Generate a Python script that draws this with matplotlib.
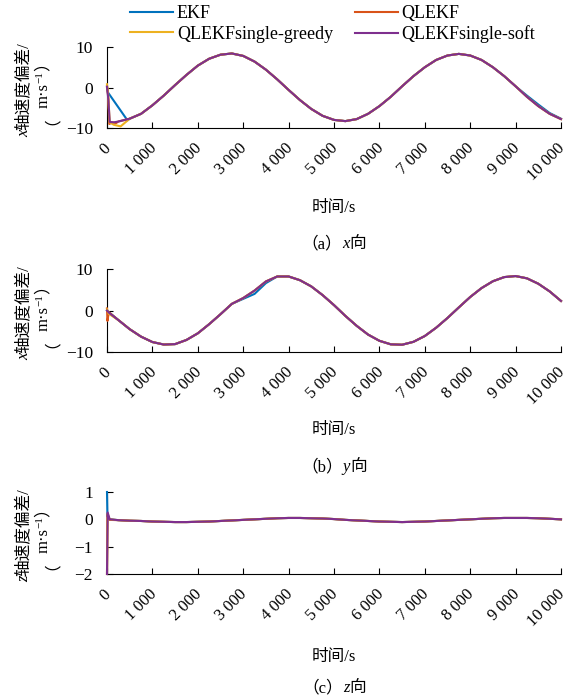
import matplotlib
matplotlib.use('Agg')
import matplotlib.pyplot as plt
from matplotlib.transforms import ScaledTranslation

W, H = 569, 696
fam = ['Liberation Serif', 'Noto Sans CJK SC']
plt.rcParams['font.family'] = fam
plt.rcParams['axes.unicode_minus'] = True

labels = ['EKF', 'QLEKF', 'QLEKFsingle-greedy', 'QLEKFsingle-soft']
colors = ['#0072BD', '#D95319', '#EDB120', '#7E2F8E']

xticks = [0, 1000, 2000, 3000, 4000, 5000, 6000, 7000, 8000, 9000, 10000]
xtick_labels = ['0', '1 000', '2 000', '3 000', '4 000', '5 000',
                '6 000', '7 000', '8 000', '9 000', '10 000']

# shared time grid after the start-up transient (s)
t_tail = [250, 500, 750, 1000, 1250, 1500, 1750, 2000, 2250, 2500,
          2750, 3000, 3250, 3500, 3750, 4000, 4250, 4500, 4750, 5000,
          5250, 5500, 5750, 6000, 6250, 6500, 6750, 7000, 7250, 7500,
          7750, 8000, 8250, 8500, 8750, 9000, 9250, 9500, 9750, 10000]

# (a) x direction
vx_tail = [-8.4, -7.7, -6.5, -4.4, -2.0, 0.6, 3.1, 5.4, 7.1, 8.1,
           8.4, 7.8, 6.4, 4.4, 2.0, -0.6, -3.1, -5.3, -7.0, -8.0,
           -8.3, -7.8, -6.5, -4.6, -2.3, 0.3, 2.8, 5.0, 6.8, 7.9,
           8.3, 7.9, 6.8, 5.0, 2.8, 0.3, -2.3, -4.6, -6.5, -7.8]
vx_ekf_tail = vx_tail[:36] + [-2.0, -4.2, -6.3, -7.7]
vx_t = [[0, 20, 450] + t_tail[1:],
        [0, 25, 50, 120, 200] + t_tail,
        [0, 20, 60, 150, 300] + t_tail[1:],
        [0, 30, 60, 150] + t_tail]
vx_v = [[0.0, -1.2, -8.1] + vx_ekf_tail[1:],
        [0.3, -2.0, -9.0, -8.6, -8.8] + vx_tail,
        [0.8, -1.0, -8.6, -9.2, -9.6] + vx_tail[1:],
        [0.2, -3.0, -8.5, -8.6] + vx_tail]

# (b) y direction
vy_tail = [-2.3, -4.5, -6.3, -7.6, -8.2, -8.1, -7.1, -5.5, -3.3, -0.9,
           1.6, 3.0, 4.8, 7.0, 8.2, 8.2, 7.3, 5.8, 3.7, 1.3,
           -1.3, -3.7, -5.8, -7.3, -8.15, -8.25, -7.55, -6.15, -4.15, -1.8,
           0.75, 3.25, 5.4, 7.05, 8.05, 8.3, 7.75, 6.45, 4.6, 2.3]
vy_ekf_tail = vy_tail[:11] + [2.8, 4.0, 6.6] + vy_tail[14:]
vy_t = [[0, 60] + t_tail,
        [0, 10, 40] + t_tail,
        [0, 40] + t_tail,
        [0, 50] + t_tail]
vy_v = [[0.0, -0.6] + vy_ekf_tail,
        [0.5, -2.5, -0.4] + vy_tail,
        [0.3, -0.8] + vy_tail,
        [0.0, -0.6] + vy_tail]

# (c) z direction
vz_tail = [-0.03, -0.05, -0.06, -0.08, -0.09, -0.1, -0.1, -0.09, -0.08, -0.06,
           -0.04, -0.02, 0.0, 0.02, 0.04, 0.05, 0.05, 0.04, 0.03, 0.01,
           -0.02, -0.04, -0.06, -0.08, -0.09, -0.1, -0.09, -0.08, -0.06, -0.04,
           -0.02, 0.0, 0.02, 0.04, 0.05, 0.05, 0.05, 0.04, 0.02, 0.0]
vz_t = [[0, 10, 60] + t_tail,
        [0, 10, 60] + t_tail,
        [0, 10, 60] + t_tail,
        [0, 15, 60] + t_tail]
vz_v = [[1.0, 0.1, 0.0] + vz_tail,
        [-2.0, 0.2, -0.02] + vz_tail,
        [-2.0, 0.05, 0.0] + vz_tail,
        [-2.0, 0.25, 0.0] + vz_tail]

panels = [
    dict(t=vx_t, v=vx_v, ylim=(-10, 10), yticks=[-10, 0, 10], top=47, bottom=128,
         axis='x', letter='a', xlab_y=212, cap_y=248),
    dict(t=vy_t, v=vy_v, ylim=(-10, 10), yticks=[-10, 0, 10], top=269, bottom=352,
         axis='x', letter='b', xlab_y=434, cap_y=471),
    dict(t=vz_t, v=vz_v, ylim=(-2, 1), yticks=[-2, -1, 0, 1], top=492, bottom=574,
         axis='z', letter='c', xlab_y=661, cap_y=692),
]
cap_axis = ['x', 'y', 'z']

fig = plt.figure(figsize=(W / 100, H / 100), dpi=100)
renderer = fig.canvas.get_renderer()


def put_pieces(x, y, parts, vertical=False):
    # parts: (text, fontsize, italic, rise); x, y in pixels from top-left
    widths = []
    for s, fs, it, rise in parts:
        t = fig.text(0, 0, s, fontsize=fs, fontstyle='italic' if it else 'normal')
        widths.append(t.get_window_extent(renderer).width)
        t.remove()
    pos = -sum(widths) / 2
    for (s, fs, it, rise), w in zip(parts, widths):
        if vertical:
            px, py, rot = x - rise, y - pos, 90
        else:
            px, py, rot = x + pos, y - rise, 0
        fig.text(px / W, 1 - py / H, s, fontsize=fs,
                 fontstyle='italic' if it else 'normal',
                 ha='left', va='baseline', rotation=rot, rotation_mode='anchor')
        pos += w


left, right = 107, 561
shift = ScaledTranslation(-4 / 100, 0, fig.dpi_scale_trans)
lines = []
for i, p in enumerate(panels):
    ax = fig.add_axes([left / W, 1 - p['bottom'] / H, (right - left) / W,
                       (p['bottom'] - p['top']) / H])
    for k in range(4):
        ln, = ax.plot(p['t'][k], p['v'][k], color=colors[k], lw=1.5,
                      label=labels[k], zorder=3, clip_on=False)
        if i == 0:
            lines.append(ln)
    ax.set_xlim(0, 10000)
    ax.set_ylim(*p['ylim'])
    ax.set_yticks(p['yticks'])
    ax.set_xticks(xticks)
    ax.spines['top'].set_visible(False)
    ax.spines['right'].set_visible(False)
    ax.tick_params(direction='in', length=4, width=0.8, labelsize=12.5,
                   labelfontfamily='Liberation Serif')
    ax.tick_params(axis='x', labelsize=12, pad=9)
    ax.tick_params(axis='y', pad=10)
    ax.set_xticklabels(xtick_labels, rotation=45, ha='right', va='top',
                       rotation_mode='anchor')
    for lbl in ax.get_xticklabels():
        lbl.set_transform(lbl.get_transform() + shift)

    yc = (p['top'] + p['bottom']) / 2 + 2
    put_pieces(28, yc, [(p['axis'], 12, True, 0), ('轴速度偏差/', 12, False, 0)],
               vertical=True)
    put_pieces(48, yc, [('（', 12, False, 0), ('m·s', 12, False, 0),
                        ('−1', 8, False, 6), ('）', 12, False, 0)], vertical=True)
    xc = (left + right) / 2
    put_pieces(xc, p['xlab_y'], [('时间/s', 12, False, 0)])
    put_pieces(xc, p['cap_y'], [('（' + p['letter'] + '）', 12, False, 0),
                                (cap_axis[i], 12, True, 0), ('向', 12, False, 0)])

order = [0, 2, 1, 3]
fig.legend([lines[k] for k in order], [labels[k] for k in order], ncol=2,
           loc='upper left', bbox_to_anchor=(130 / W, 1 - 5 / H),
           frameon=False, fontsize=13, handlelength=2.38, handletextpad=0.22,
           columnspacing=1.2, labelspacing=0.2, borderpad=0, borderaxespad=0)

fig.savefig('out.png', dpi=100)
